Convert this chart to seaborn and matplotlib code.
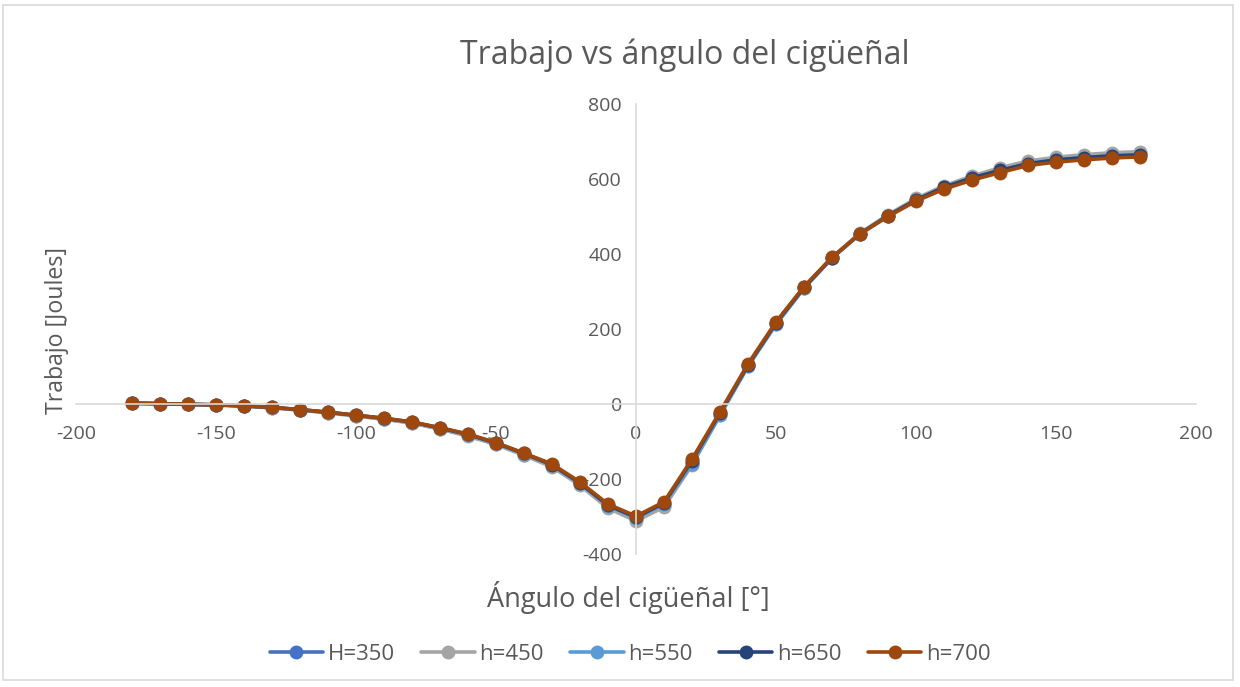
import numpy as np
import pandas as pd
import matplotlib
matplotlib.use("Agg")
import matplotlib.pyplot as plt
import seaborn as sns
from matplotlib.patches import Rectangle

angulo = [-180, -170, -160, -150, -140, -130, -120, -110, -100, -90,
          -80, -70, -60, -50, -40, -30, -20, -10, 0, 10,
          20, 30, 40, 50, 60, 70, 80, 90, 100, 110,
          120, 130, 140, 150, 160, 170, 180]

H350 = [2, 1, -1, -3, -5, -10, -16, -23, -31, -40,
        -50, -66, -84, -107, -135, -165, -214, -274, -307, -270,
        -158, -28, 102, 214, 310, 390, 454, 502, 545, 578,
        604, 625, 644, 654, 661, 666, 668]
h450 = [2, 1, -1, -3, -6, -10, -16, -24, -32, -41,
        -51, -67, -86, -108, -137, -168, -217, -278, -312, -275,
        -163, -30, 103, 215, 311, 391, 456, 505, 548, 582,
        608, 630, 648, 658, 665, 670, 673]
h550 = [2, 1, -1, -2, -5, -9, -15, -22, -30, -39,
        -49, -64, -82, -105, -133, -163, -211, -271, -304, -267,
        -160, -30, 100, 212, 308, 389, 453, 501, 543, 577,
        602, 622, 641, 650, 657, 661, 664]
h650 = [2, 1, -1, -2, -5, -9, -15, -22, -30, -38,
        -48, -64, -81, -104, -132, -162, -211, -270, -302, -264,
        -151, -24, 104, 216, 311, 390, 454, 502, 544, 578,
        603, 623, 641, 651, 657, 662, 664]
h700 = [2, 1, -1, -2, -5, -9, -15, -22, -30, -38,
        -48, -63, -80, -103, -131, -160, -208, -267, -299, -261,
        -147, -21, 107, 219, 313, 391, 454, 500, 541, 573,
        597, 617, 636, 645, 651, 656, 659]

series_names = ["H=350", "h=450", "h=550", "h=650", "h=700"]
series_vals = [H350, h450, h550, h650, h700]
colors = ["#4472C4", "#A5A5A5", "#5B9BD5", "#264478", "#9E480E"]

df = pd.concat([pd.DataFrame({"angulo": angulo, "trabajo": v, "serie": n})
                for n, v in zip(series_names, series_vals)], ignore_index=True)

sns.set_style("white")
plt.rcParams['font.family'] = ['Open Sans', 'DejaVu Sans']
plt.rcParams['axes.unicode_minus'] = False

fig = plt.figure(figsize=(12.4, 6.87), dpi=100)
ax = fig.add_axes([76/1240, 1-554/687, 1120/1240, 450/687])

sns.lineplot(data=df, x="angulo", y="trabajo", hue="serie", hue_order=series_names,
             palette=colors, marker="o", markersize=10, markeredgewidth=0,
             linewidth=2.6, ax=ax, legend=False, sort=False)

ax.set_xlim(-200, 200)
ax.set_ylim(-400, 800)
ax.set_xticks([-200, -150, -100, -50, 0, 50, 100, 150, 200])
ax.set_yticks([-400, -200, 0, 200, 400, 600, 800])
ax.spines['left'].set_position(('data', 0))
ax.spines['bottom'].set_position(('data', 0))
ax.spines['right'].set_visible(False)
ax.spines['top'].set_visible(False)
for s in ['left', 'bottom']:
    ax.spines[s].set_color('#D9D9D9')
    ax.spines[s].set_linewidth(1.2)
ax.tick_params(axis='both', length=0, labelsize=14, labelcolor='#595959')
ax.tick_params(axis='x', pad=15)
ax.tick_params(axis='y', pad=10)
ax.set_xlabel("")
ax.set_ylabel("")

fig.text(685/1240, 1-55/687, "Trabajo vs ángulo del cigüeñal", ha='center', va='center',
         fontsize=23, color='#595959')
fig.text(628/1240, 1-598/687, "Ángulo del cigüeñal [°]", ha='center', va='center',
         fontsize=19.5, color='#595959')
fig.text(57/1240, 1-330/687, "Trabajo [Joules]", ha='center', va='center',
         fontsize=16.7, color='#595959', rotation=90)

handles = ax.lines[:5]
fig.legend(handles=handles, labels=series_names, loc='center', ncol=5,
           bbox_to_anchor=(630/1240, 1-654/687), frameon=False, fontsize=16,
           labelcolor='#595959', handlelength=2.4, columnspacing=1.2, handletextpad=0.2)

fig.patches.append(Rectangle((3/1240, 7/687), 1230/1240, 675/687, transform=fig.transFigure,
                             fill=False, edgecolor='#D9D9D9', linewidth=1.2))

fig.savefig("out.png", dpi=100, facecolor='white')
